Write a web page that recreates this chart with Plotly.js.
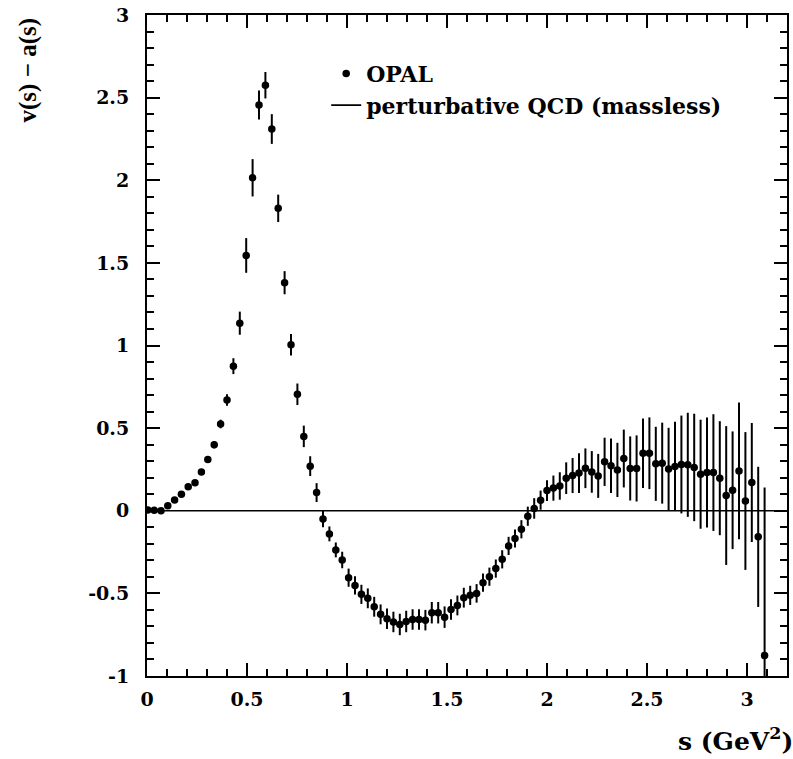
<!DOCTYPE html>
<html>
<head>
<meta charset="utf-8">
<script src="https://cdn.plot.ly/plotly-3.0.1.min.js"></script>
<style>html,body{margin:0;padding:0;background:#fff;}#chart{width:793px;height:759px;}</style>
</head>
<body>
<div id="chart"></div>
<script>
// OPAL data: s (GeV^2), v(s)-a(s), error
var sValues = [0.004,0.036,0.070,0.104,0.138,0.172,0.206,0.240,0.272,0.304,0.336,0.368,0.400,0.432,0.464,0.496,0.528,0.560,0.592,0.624,0.656,0.688,0.720,0.752,0.784,0.816,0.848,0.880,0.912,0.944,0.976,1.008,1.040,1.072,1.104,1.136,1.168,1.200,1.232,1.264,1.296,1.328,1.360,1.392,1.424,1.456,1.488,1.520,1.552,1.584,1.616,1.648,1.680,1.712,1.744,1.776,1.808,1.840,1.872,1.904,1.936,1.968,2.000,2.032,2.064,2.096,2.128,2.160,2.192,2.224,2.256,2.288,2.320,2.352,2.384,2.416,2.448,2.480,2.512,2.544,2.576,2.608,2.640,2.672,2.704,2.736,2.768,2.800,2.832,2.864,2.896,2.928,2.960,2.992,3.024,3.056,3.088];
var vMinusA = [0.005,0.003,0.0,0.03,0.065,0.10,0.145,0.17,0.235,0.31,0.40,0.525,0.67,0.875,1.135,1.545,2.015,2.455,2.575,2.31,1.83,1.38,1.005,0.705,0.45,0.27,0.11,-0.05,-0.14,-0.237,-0.298,-0.405,-0.452,-0.506,-0.53,-0.581,-0.627,-0.653,-0.673,-0.688,-0.67,-0.658,-0.658,-0.662,-0.617,-0.617,-0.644,-0.597,-0.573,-0.526,-0.512,-0.5,-0.435,-0.399,-0.35,-0.294,-0.213,-0.168,-0.112,-0.033,0.014,0.064,0.122,0.137,0.15,0.197,0.213,0.228,0.257,0.235,0.211,0.296,0.272,0.247,0.316,0.256,0.256,0.348,0.348,0.284,0.288,0.252,0.268,0.28,0.278,0.262,0.221,0.231,0.231,0.197,0.092,0.124,0.241,0.059,0.171,-0.158,-0.876];
var vMinusAErr = [0.01,0.01,0.01,0.01,0.01,0.012,0.014,0.015,0.017,0.02,0.022,0.026,0.035,0.048,0.07,0.105,0.113,0.088,0.08,0.09,0.083,0.07,0.065,0.065,0.065,0.06,0.057,0.05,0.045,0.045,0.05,0.055,0.055,0.058,0.06,0.06,0.06,0.062,0.062,0.065,0.065,0.062,0.062,0.062,0.065,0.065,0.065,0.062,0.06,0.06,0.058,0.056,0.055,0.055,0.055,0.055,0.055,0.055,0.055,0.058,0.062,0.058,0.063,0.076,0.083,0.096,0.106,0.12,0.12,0.126,0.133,0.146,0.165,0.164,0.175,0.194,0.2,0.21,0.217,0.224,0.245,0.25,0.27,0.296,0.315,0.325,0.33,0.333,0.353,0.345,0.42,0.356,0.414,0.417,0.36,0.424,1.016];
// perturbative QCD (massless): v - a = 0
var qcdS = [0, 3.2];
var qcdV = [0, 0];

var xTickVals = [0, 0.5, 1, 1.5, 2, 2.5, 3];
var xTickText = ['0', '0.5', '1', '1.5', '2', '2.5', '3'];
var yTickVals = [-1, -0.5, 0, 0.5, 1, 1.5, 2, 2.5, 3];
var yTickText = ['-1', '-0.5', '0', '0.5', '1', '1.5', '2', '2.5', '3'];

var tickFont = {family: 'DejaVu Serif', size: 19, color: '#000', weight: 'bold'};

var traces = [
  {
    x: sValues, y: vMinusA, type: 'scatter', mode: 'markers', name: 'OPAL',
    marker: {color: '#000', size: 7.5, symbol: 'circle'},
    error_y: {type: 'data', array: vMinusAErr, visible: true, color: '#000', thickness: 2, width: 0},
    cliponaxis: true
  },
  {
    x: qcdS, y: qcdV, type: 'scatter', mode: 'lines', name: 'perturbative QCD (massless)',
    line: {color: '#000', width: 1.6}
  }
];

var axisCommon = {
  showline: true, linecolor: '#000', linewidth: 2, mirror: 'allticks',
  ticks: 'inside', ticklen: 13, tickwidth: 2, tickcolor: '#000',
  showgrid: false, zeroline: false, tickfont: tickFont,
  minor: {dtick: 0.1, ticks: 'inside', ticklen: 7, tickwidth: 2, tickcolor: '#000', showgrid: false}
};

var layout = {
  width: 793, height: 759,
  margin: {l: 147, r: 6, t: 15, b: 83},
  paper_bgcolor: '#fff', plot_bgcolor: '#fff',
  showlegend: true,
  legend: {
    x: 0.28, y: 0.943, xanchor: 'left', yanchor: 'top',
    font: {family: 'DejaVu Serif', size: 22, color: '#000', weight: 'bold'},
    bgcolor: 'rgba(0,0,0,0)', borderwidth: 0, traceorder: 'normal'
  },
  xaxis: Object.assign({}, axisCommon, {
    range: [0, 3.2], tickmode: 'array', tickvals: xTickVals, ticktext: xTickText,
    ticklabelstandoff: 5
  }),
  yaxis: Object.assign({}, axisCommon, {
    range: [-1, 3], tickmode: 'array', tickvals: yTickVals, ticktext: yTickText,
    ticklabelstandoff: 12
  }),
  annotations: [
    {
      text: 'v(s) \u2212 a(s)', xref: 'paper', yref: 'paper', x: -0.186, y: 1.0,
      xanchor: 'center', yanchor: 'top', textangle: -90, showarrow: false,
      font: {family: 'Liberation Serif', size: 25, color: '#000', weight: 'bold'}
    },
    {
      text: 's (GeV<sup>2</sup>)', xref: 'paper', yref: 'paper', x: 1.012, y: -0.124,
      xanchor: 'right', yanchor: 'bottom', showarrow: false,
      font: {family: 'DejaVu Serif', size: 25, color: '#000', weight: 'bold'}
    }
  ]
};

Plotly.newPlot('chart', traces, layout, {displayModeBar: false, staticPlot: true});
</script>
</body>
</html>
